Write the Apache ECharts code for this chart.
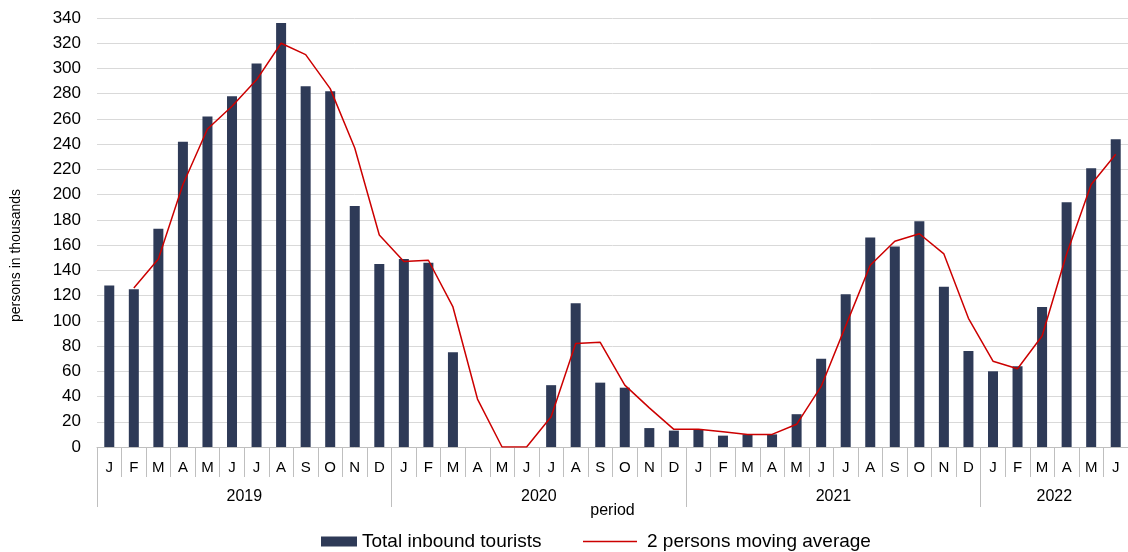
<!DOCTYPE html>
<html>
<head>
<meta charset="utf-8">
<script src="https://cdn.jsdelivr.net/npm/echarts@6/dist/echarts.min.js"></script>
<style>
html,body{margin:0;padding:0;background:#fff;}
#chart{width:1128px;height:552px;}
</style>
</head>
<body>
<div id="chart"></div>
<script>
var months = ['J','F','M','A','M','J','J','A','S','O','N','D',
              'J','F','M','A','M','J','J','A','S','O','N','D',
              'J','F','M','A','M','J','J','A','S','O','N','D',
              'J','F','M','A','M','J'];
var years = ['2019','2020','2021','2022'];
var yearCenters = [6, 18, 30, 39];
var yearBounds = [0, 12, 24, 36, 42];
var tourists = [128,125,173,242,262,278,304,336,286,282,191,145,
                149,146,75,0,0,0,49,114,51,47,15,13,
                14,9,10,10,26,70,121,166,159,179,127,76,
                60,64,111,194,221,244];
var movingAvg = [null,126,149,208,252,270,291,320,311,284,237,168,
                 147,148,111,38,0,0,24,82,83,49,31,14,
                 14,12,10,10,18,48,96,144,163,169,153,102,
                 68,62,88,153,208,232];
var yTicks = {min:0, max:340, interval:20};

var font = 'Liberation Sans, Arial, sans-serif';
var chart = echarts.init(document.getElementById('chart'));
chart.setOption({
  animation:false,
  textStyle:{fontFamily:font},
  grid:{left:97, right:0, top:18, bottom:105, containLabel:false, outerBoundsMode:'none'},
  legend:[{
    left:316, top:527, itemWidth:36, itemHeight:10, itemGap:10,
    textStyle:{fontSize:19, color:'#000', fontFamily:font},
    data:[{name:'Total inbound tourists', icon:'rect'}]
  },{
    left:578, top:527, itemWidth:54, itemHeight:1.5,
    textStyle:{fontSize:19, color:'#000', fontFamily:font, padding:[0,0,0,5]},
    data:[{name:'2 persons moving average', icon:'rect', itemStyle:{color:'#CC0000'}}]
  }],
  xAxis:[{
    type:'category', data:months, boundaryGap:true,
    axisLine:{show:true, lineStyle:{color:'#bfbfbf', width:1}},
    axisTick:{show:true, interval:0, length:30, lineStyle:{color:'#bfbfbf'}},
    axisLabel:{interval:0, margin:13, fontSize:15, color:'#000', fontFamily:font}
  },{
    type:'value', min:0, max:42, position:'bottom',
    name:'period', nameLocation:'middle', nameGap:56, nameMoveOverlap:false,
    nameTextStyle:{fontSize:16, color:'#000', fontFamily:font},
    axisLine:{show:false},
    splitLine:{show:false},
    axisTick:{show:true, length:60, customValues:yearBounds, lineStyle:{color:'#bfbfbf'}},
    axisLabel:{show:true, customValues:yearCenters, margin:42, fontSize:16, color:'#000', fontFamily:font,
      formatter:function(v){ var i = yearCenters.indexOf(v); return i>=0 ? years[i] : ''; }}
  }],
  yAxis:{
    type:'value', min:yTicks.min, max:yTicks.max, interval:yTicks.interval,
    name:'persons in thousands', nameLocation:'middle', nameGap:74, nameRotate:90,
    nameTextStyle:{fontSize:14, color:'#000', fontFamily:font, padding:[0,46,0,0]},
    axisLine:{show:false}, axisTick:{show:false},
    axisLabel:{fontSize:17, color:'#000', margin:16, fontFamily:font},
    splitLine:{lineStyle:{color:'#d9d9d9', width:1}}
  },
  series:[{
    name:'Total inbound tourists', type:'bar', xAxisIndex:0, data:tourists,
    barWidth:10,
    itemStyle:{color:'#2E3A57'}
  },{
    name:'2 persons moving average', type:'line', xAxisIndex:0, data:movingAvg,
    symbol:'none', connectNulls:false,
    lineStyle:{color:'#CC0000', width:1.5},
    itemStyle:{color:'#CC0000'}
  }]
});
</script>
</body>
</html>
